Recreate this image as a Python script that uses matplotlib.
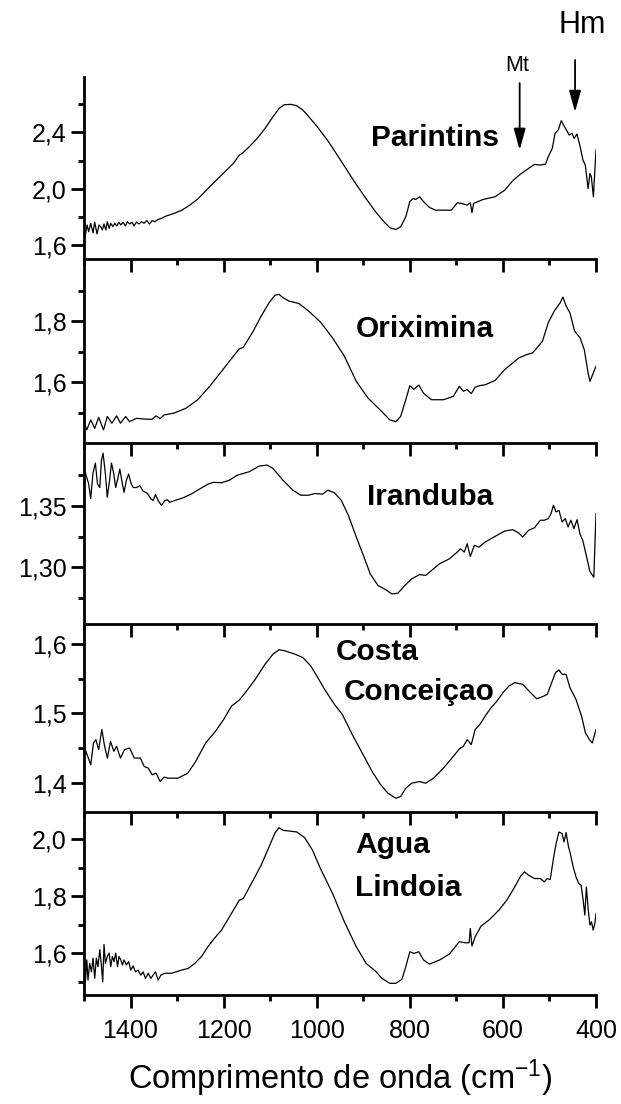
import matplotlib
matplotlib.use("Agg")
import matplotlib.pyplot as plt
from matplotlib.ticker import FixedLocator, FixedFormatter

plt.rcParams['font.family'] = ['Liberation Sans', 'DejaVu Sans']
plt.rcParams['mathtext.default'] = 'regular'

# ---------------- spectra (wavenumber in cm-1, absorbance) ----------------
wn_parintins = [1497, 1493.5, 1490, 1485.6, 1480.6, 1477, 1472, 1467.7, 1464, 1460.5, 1457, 1453, 1450,
                1446, 1442.6, 1438, 1434, 1429.6, 1425, 1421, 1416, 1411, 1407, 1401.6, 1396.7, 1392.4,
                1387.4, 1382, 1376.6, 1371, 1365, 1359.4, 1353.6, 1348, 1340.7, 1333.6, 1323.8, 1306.7,
                1289.7, 1272.7, 1255.6, 1230, 1204.6, 1179, 1166.3, 1160, 1145, 1128, 1111, 1094, 1081,
                1070, 1055.6, 1043, 1030, 1017, 1000, 974.7, 949, 923.6, 898, 872.5, 855.5, 842.7, 830,
                819.7, 808.7, 800, 793, 787.4, 779, 770.4, 757.6, 744.8, 710.8, 698, 689.5, 676.7, 670,
                666.5, 663, 642.7, 617, 596, 579, 562, 545, 532, 519.5, 508.5, 502.5, 494, 488, 481, 474.6,
                468.6, 462.7, 457.5, 451.5, 447, 441, 434, 428, 423, 417, 413, 410, 405.6, 400]
abs_parintins = [1.671, 1.743, 1.695, 1.755, 1.688, 1.762, 1.679, 1.743, 1.731, 1.707, 1.750, 1.707, 1.766,
                 1.719, 1.755, 1.731, 1.755, 1.736, 1.762, 1.743, 1.762, 1.736, 1.766, 1.750, 1.762, 1.736,
                 1.764, 1.750, 1.766, 1.755, 1.774, 1.750, 1.774, 1.766, 1.783, 1.790, 1.806, 1.825,
                 1.848, 1.884, 1.927, 2.014, 2.097, 2.180, 2.239, 2.251, 2.298, 2.357, 2.428, 2.511, 2.570,
                 2.596, 2.599, 2.589, 2.559, 2.511, 2.445, 2.334, 2.204, 2.073, 1.948, 1.832, 1.766, 1.723, 1.711,
                 1.730, 1.801, 1.908, 1.931, 1.924, 1.943, 1.908, 1.867, 1.848, 1.848, 1.900, 1.896, 1.884, 1.900,
                 1.830, 1.896, 1.924, 1.943, 1.990, 2.057, 2.104, 2.144, 2.173, 2.168, 2.175, 2.227, 2.286, 2.393,
                 2.417, 2.483, 2.445, 2.412, 2.381, 2.393, 2.357, 2.388, 2.298, 2.204, 2.168, 2.002, 2.109,
                 2.085, 1.943, 2.275]

wn_oriximina = [1500, 1494, 1485.5, 1477, 1468.5, 1458, 1450, 1440, 1430, 1421.7, 1410.6, 1402, 1387.6, 1366,
                1353.6, 1345, 1336.5, 1328, 1306.7, 1281, 1255.6, 1230, 1204.6, 1179, 1166.3, 1157.8, 1136.5,
                1119.5, 1102.5, 1089.7, 1081, 1072.7, 1060, 1038.6, 1017.4, 992, 966, 940.6, 915, 889.5, 864,
                843, 830, 819.7, 808.7, 800, 791.7, 780.6, 770.4, 753.3, 727.8, 706.5, 693.7, 685, 676.7, 668,
                659.6, 651, 638.3, 617, 596, 566, 549, 536, 523.6, 515, 502.5, 489.7, 477, 471, 464, 456, 446,
                434, 425, 417, 413, 408.9, 400]
abs_oriximina = [1.470, 1.443, 1.476, 1.448, 1.484, 1.443, 1.487, 1.465, 1.489, 1.465, 1.487, 1.470, 1.481,
                 1.478, 1.478, 1.489, 1.480, 1.492, 1.498, 1.514, 1.542, 1.586, 1.635, 1.685, 1.709, 1.714,
                 1.767, 1.816, 1.860, 1.885, 1.888, 1.877, 1.866, 1.858, 1.833, 1.797, 1.745, 1.685, 1.602,
                 1.547, 1.509, 1.476, 1.470, 1.487, 1.542, 1.588, 1.576, 1.590, 1.563, 1.542, 1.542, 1.553,
                 1.586, 1.570, 1.575, 1.562, 1.583, 1.588, 1.591, 1.605, 1.641, 1.679, 1.690, 1.696, 1.718,
                 1.734, 1.795, 1.833, 1.860, 1.879, 1.849, 1.827, 1.767, 1.745, 1.705, 1.630, 1.602, 1.618,
                 1.652]

wn_iranduba = [1498.5, 1497, 1490, 1485.6, 1480.6, 1475.6, 1471, 1466, 1462.6, 1459, 1454, 1450, 1444.7, 1441,
               1436, 1432, 1427, 1423, 1418, 1414, 1409, 1404, 1399.5, 1394.5, 1387.4, 1380, 1373, 1364,
               1356.5, 1351.5, 1346.5, 1340.7, 1333.6, 1326, 1320.7, 1315.6, 1304.8, 1287, 1269, 1251, 1233,
               1222.3, 1204.6, 1187.5, 1170.5, 1145, 1123.7, 1106.7, 1094, 1072.7, 1051, 1034.3, 1017.4,
               1004.5, 987.5, 976.4, 962, 947.4, 932, 915, 899.8, 885, 868.3, 851, 838.5, 825.7, 813, 796,
               779, 766, 753.3, 736.3, 715, 698, 691, 683, 676.7, 670, 661.4, 651, 638.3, 617, 596, 579, 566,
               557.5, 544.8, 532, 519.5, 511, 502.5, 496.6, 491.5, 485.7, 479.6, 472.8, 466, 460, 454, 447.4,
               440.7, 434.6, 428.5, 423.4, 417.6, 413.3, 407.3, 404.7, 400]
abs_iranduba = [1.376, 1.377, 1.368, 1.356, 1.377, 1.385, 1.368, 1.365, 1.387, 1.393, 1.376, 1.357, 1.372,
                1.385, 1.376, 1.365, 1.373, 1.380, 1.369, 1.361, 1.371, 1.376, 1.369, 1.365, 1.365, 1.3665,
                1.362, 1.3603, 1.3558, 1.3544, 1.3593, 1.3544, 1.3504, 1.3544, 1.355, 1.353, 1.3544, 1.3566,
                1.3598, 1.3639, 1.3679, 1.3692, 1.3689, 1.371, 1.3751, 1.3779, 1.3825, 1.3833, 1.3806,
                1.371, 1.3628, 1.3587, 1.3587, 1.3601, 1.3596, 1.3628, 1.3607, 1.3546, 1.3423, 1.3246,
                1.3096, 1.2945, 1.285, 1.2814, 1.2781, 1.2787, 1.2842, 1.2904, 1.294, 1.2932, 1.2973,
                1.3027, 1.3068, 1.3123, 1.315, 1.3123, 1.3191, 1.3087, 1.3178, 1.3164, 1.3205, 1.3251,
                1.3295, 1.3306, 1.3279, 1.3246, 1.3301, 1.3322, 1.3383, 1.3383, 1.3396, 1.3437, 1.3505,
                1.3451, 1.3464, 1.3369, 1.3396, 1.3328, 1.3383, 1.3314, 1.3388, 1.3273, 1.3219, 1.3137,
                1.3041, 1.2967, 1.2932, 1.2918, 1.3437]

wn_costa = [1500, 1492, 1485.5, 1479.6, 1474.5, 1468.5, 1461.7, 1455.7, 1449.8, 1443, 1436, 1430, 1421.7,
            1413, 1402, 1392, 1379, 1370.6, 1362, 1353.6, 1345, 1336.5, 1328, 1319.5, 1298, 1277, 1260,
            1238.6, 1217.3, 1200, 1183, 1166.3, 1153.5, 1132, 1111, 1094, 1081, 1068.7, 1047, 1030, 1013,
            1000, 983, 962, 945, 923.6, 902.3, 881, 864, 847, 830, 819.7, 808.7, 796, 779, 766, 749, 727.8,
            706.5, 693.7, 685, 676.7, 668, 659.6, 649.4, 638.3, 625.5, 612.8, 600, 587, 574.5, 557.5, 540.5,
            527.6, 515, 504.6, 496.6, 487, 479.6, 472.8, 464.3, 456, 443, 431, 422.7, 414, 408, 400]
abs_costa = [1.453, 1.4386, 1.4266, 1.4578, 1.4626, 1.4482, 1.477, 1.453, 1.4362, 1.4602, 1.4458, 1.453,
             1.4362, 1.4482, 1.4506, 1.4362, 1.4362, 1.4242, 1.4218, 1.4122, 1.4146, 1.4026, 1.4089, 1.4074,
             1.4074, 1.4146, 1.4314, 1.4578, 1.4746, 1.4914, 1.5106, 1.5192, 1.5297, 1.5489, 1.5705, 1.5849,
             1.5911, 1.5897, 1.5849, 1.5801, 1.5681, 1.5537, 1.5345, 1.513, 1.4986, 1.4698, 1.4434, 1.417,
             1.3993, 1.3858, 1.3787, 1.3811, 1.393, 1.4002, 1.4026, 1.4002, 1.4074, 1.4218, 1.4386, 1.4492,
             1.453, 1.4626, 1.4554, 1.477, 1.4842, 1.4962, 1.5082, 1.5177, 1.5297, 1.5393, 1.5441, 1.5417,
             1.5297, 1.5211, 1.524, 1.5273, 1.5417, 1.5585, 1.5623, 1.556, 1.556, 1.5369, 1.5201, 1.4962,
             1.4722, 1.4626, 1.4578, 1.477]

wn_agua = [1497, 1494, 1491.4, 1487.8, 1484, 1480.6, 1477, 1473.5, 1470, 1466, 1462.7, 1459.8, 1457, 1454,
           1450, 1446, 1442.6, 1439, 1435.4, 1431.8, 1428, 1424.7, 1421, 1417.5, 1414, 1409, 1404, 1399.5,
           1394.5, 1389.5, 1383.8, 1378, 1373, 1368, 1362, 1356.5, 1351.5, 1346.5, 1340.7, 1335, 1326, 1312,
           1290.5, 1276, 1261.7, 1247.5, 1233, 1218.7, 1204.6, 1179, 1166.3, 1157.8, 1136.5, 1119.5, 1102.5,
           1089.7, 1081, 1072.7, 1060, 1043, 1026, 1009, 992, 966, 940.6, 915, 893.8, 881, 872.5, 860, 843,
           830, 817, 808.7, 800, 791.7, 780.6, 770.4, 757.6, 736.3, 715, 702.4, 693.7, 681, 672.6, 670,
           666.5, 659.6, 647, 630, 608.6, 591.6, 574.5, 562, 553.5, 545, 532, 519.5, 511, 505, 498.3, 491.5,
           485.7, 479.6, 472.8, 468.6, 464.3, 459, 456, 449, 443, 437, 432, 427.6, 424, 420.7, 416.6, 413,
           409.7, 406, 402.5, 400]
abs_agua = [1.4986, 1.576, 1.5047, 1.564, 1.534, 1.582, 1.511, 1.582, 1.552, 1.612, 1.558, 1.4986, 1.630,
            1.564, 1.588, 1.600, 1.552, 1.588, 1.570, 1.600, 1.552, 1.588, 1.576, 1.558, 1.576, 1.558, 1.570,
            1.540, 1.555, 1.534, 1.540, 1.5225, 1.534, 1.511, 1.529, 1.511, 1.5225, 1.534, 1.5047, 1.5225,
            1.529, 1.529, 1.540, 1.546, 1.564, 1.588, 1.624, 1.654, 1.6807, 1.7509, 1.786, 1.7918, 1.8561,
            1.9088, 1.9731, 2.0222, 2.0409, 2.0316, 2.0292, 2.0257, 2.0058, 1.9614, 1.8971, 1.8094, 1.7099,
            1.6222, 1.5637, 1.5462, 1.5345, 1.5111, 1.4936, 1.4936, 1.5076, 1.552, 1.6047, 1.5988, 1.6047,
            1.5754, 1.5614, 1.5754, 1.5965, 1.6222, 1.6398, 1.6362, 1.6362, 1.6865, 1.6246, 1.6573, 1.6947,
            1.7158, 1.7509, 1.786, 1.8327, 1.8702, 1.8854, 1.8737, 1.862, 1.862, 1.8503, 1.862, 1.8585,
            1.9322, 1.9848, 2.0257, 2.0199, 1.9906, 2.0234, 1.9731, 1.9555, 1.9029, 1.8678, 1.8444, 1.8386,
            1.786, 1.7333, 1.8327, 1.7509, 1.6982, 1.7099, 1.6807, 1.7041, 1.7392]

# y ranges and tick values for each stacked panel (top to bottom)
wavenumbers = [wn_parintins, wn_oriximina, wn_iranduba, wn_costa, wn_agua]
absorbances = [abs_parintins, abs_oriximina, abs_iranduba, abs_costa, abs_agua]
y_limits = [(1.505, 2.793), (1.399, 2.0055), (1.2536, 1.4011), (1.359, 1.628), (1.4526, 2.0959)]
y_major = [[1.6, 2.0, 2.4], [1.6, 1.8], [1.30, 1.35], [1.4, 1.5, 1.6], [1.6, 1.8, 2.0]]
y_major_labels = [['1,6', '2,0', '2,4'], ['1,6', '1,8'], ['1,30', '1,35'],
                  ['1,4', '1,5', '1,6'], ['1,6', '1,8', '2,0']]
y_minor = [[1.8, 2.2, 2.6], [1.5, 1.7, 1.9], [1.275, 1.325, 1.375], [1.45, 1.55], [1.5, 1.7, 1.9]]
x_major = [1400, 1200, 1000, 800, 600, 400]
x_minor = [1500, 1300, 1100, 900, 700, 500]
x_major_labels = ['1400', '1200', '1000', '800', '600', '400']

# sample name lines: (panel, text, left edge in cm-1, value)
sample_labels = [
    (0, 'Parintins', 884, 2.357),
    (1, 'Oriximina', 917, 1.7725),
    (2, 'Iranduba', 893, 1.3574),
    (3, 'Costa', 960, 1.5878),
    (3, 'Conceiçao', 942, 1.530),
    (4, 'Agua', 917, 1.980),
    (4, 'Lindoia', 917, 1.829),
]

# panel edges in figure pixels (top, bottom)
W, H = 621, 1104
edges = [(77, 258.5), (258.5, 443.3), (443.3, 624), (624, 812), (812, 995)]
left_px, right_px = 84, 596

fig = plt.figure(figsize=(W / 100, H / 100), dpi=100)
axes = []
for i in range(5):
    top, bot = edges[i]
    ax = fig.add_axes([left_px / W, 1 - bot / H, (right_px - left_px) / W, (bot - top) / H])
    ax.set_facecolor('none')
    ax.plot(wavenumbers[i], absorbances[i], color='black', lw=0.9)
    ax.set_xlim(1500, 400)
    ax.set_ylim(*y_limits[i])
    for side in ('top', 'right'):
        ax.spines[side].set_visible(False)
    for side in ('left', 'bottom'):
        ax.spines[side].set_linewidth(2.0)
    ax.yaxis.set_major_locator(FixedLocator(y_major[i]))
    ax.yaxis.set_major_formatter(FixedFormatter(y_major_labels[i]))
    ax.yaxis.set_minor_locator(FixedLocator(y_minor[i]))
    ax.xaxis.set_major_locator(FixedLocator(x_major))
    ax.xaxis.set_minor_locator(FixedLocator(x_minor))
    ax.tick_params(which='major', direction='out', length=9.5, width=2.0, labelsize=18, pad=3)
    ax.tick_params(which='minor', direction='out', length=4.5, width=2.0)
    if i < 4:
        ax.tick_params(axis='x', which='both', labelbottom=False)
    else:
        ax.xaxis.set_major_formatter(FixedFormatter(x_major_labels))
        ax.tick_params(axis='x', pad=8)
    axes.append(ax)

for i, text, lx, ly in sample_labels:
    axes[i].text(lx, ly, text, ha='left', va='center', fontsize=21.5, fontweight='bold')

axes[4].set_xlabel('Comprimento de onda (cm$^{-1}$)', fontsize=23.5, labelpad=10)

# mineral band markers above the top spectrum
top_ax = axes[0]
arrow_kw = dict(arrowstyle='-|>,head_length=0.65,head_width=0.18', color='black', lw=1.3,
                mutation_scale=20, shrinkA=0, shrinkB=0)
top_ax.annotate('', xy=(564, 2.275), xytext=(564, 2.75), arrowprops=arrow_kw, annotation_clip=False)
top_ax.annotate('', xy=(445, 2.544), xytext=(445, 2.914), arrowprops=arrow_kw, annotation_clip=False)
top_ax.text(570, 2.878, 'Mt', ha='center', va='center', fontsize=15.5, clip_on=False)
top_ax.text(430, 3.162, 'Hm', ha='center', va='center', fontsize=22, clip_on=False)

fig.savefig('out.png', dpi=100)
